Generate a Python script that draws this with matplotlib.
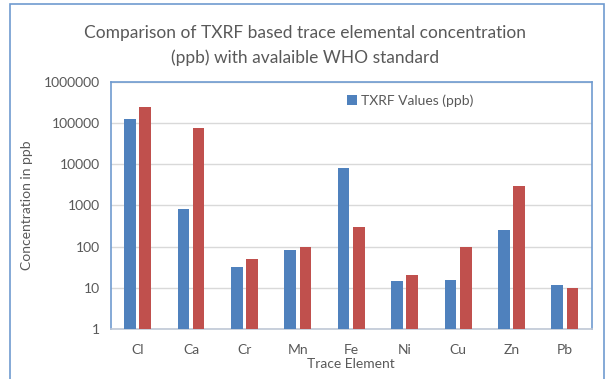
import matplotlib.pyplot as plt
import matplotlib.ticker as mticker
import numpy as np

plt.rcParams['font.family'] = ['Lato', 'DejaVu Sans']

elements = ['Cl', 'Ca', 'Cr', 'Mn', 'Fe', 'Ni', 'Cu', 'Zn', 'Pb']
txrf = [128000, 800, 32, 83, 7900, 14.5, 15.5, 258, 11.6]
who = [250000, 75000, 50, 100, 300, 20, 100, 3000, 10]
yticks = [1, 10, 100, 1000, 10000, 100000, 1000000]

grey = '#595959'
blue = '#4F81BD'
red = '#C0504D'

fig = plt.figure(figsize=(6.1, 3.79), dpi=100)
ax = fig.add_axes([0.182, 0.132, 0.788, 0.652])

x = np.arange(len(elements))
w = 0.22
ax.bar(x - 0.145, txrf, w, color=blue, label='TXRF Values (ppb)', zorder=3)
ax.bar(x + 0.14, who, w, color=red, zorder=3)

ax.set_yscale('log')
ax.set_ylim(1, 1000000)
ax.set_xlim(-0.5, len(elements) - 0.5)
ax.set_yticks(yticks)
ax.yaxis.set_major_formatter(mticker.FuncFormatter(lambda v, p: f'{int(v)}'))
ax.yaxis.set_minor_locator(mticker.NullLocator())
ax.set_xticks(x)
ax.set_xticklabels(elements)
ax.tick_params(length=0, colors=grey, labelsize=10)
ax.tick_params(axis='x', pad=11)
ax.tick_params(axis='y', pad=8)
ax.grid(axis='y', color='#D9D9D9', linewidth=1, zorder=0)

for s in ['left', 'right', 'top']:
    ax.spines[s].set_color('#6F9BD0')
ax.spines['bottom'].set_color('#BFC8D6')
for s in ax.spines.values():
    s.set_linewidth(1.2)

ax.set_ylabel('Concentration in ppb', color=grey, fontsize=10, labelpad=8)
ax.set_xlabel('Trace Element', color=grey, fontsize=10, labelpad=1)

fig.text(0.5, 0.88, 'Comparison of TXRF based trace elemental concentration\n(ppb) with avalaible WHO standard',
         ha='center', va='center', color=grey, fontsize=12.5, linespacing=1.65)

leg = ax.legend(loc='upper left', bbox_to_anchor=(0.465, 1.0), frameon=False,
                fontsize=10, handlelength=0.7, handleheight=0.7, handletextpad=0.3)
for t in leg.get_texts():
    t.set_color(grey)

# outer chart border
fig.patches.append(plt.Rectangle((0.016, -0.01), 0.974, 1.0, transform=fig.transFigure,
                                 fill=False, edgecolor='#6F9BD0', linewidth=1.2))

fig.savefig('out.png', dpi=100)
